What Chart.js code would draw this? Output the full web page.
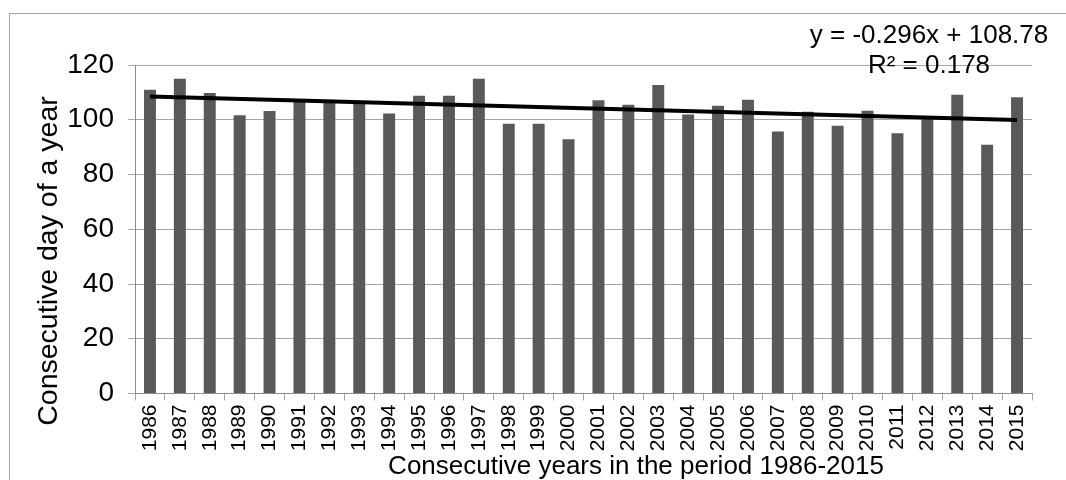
<!DOCTYPE html>
<html>
<head>
<meta charset="utf-8">
<script src="https://cdn.jsdelivr.net/npm/chart.js@4/dist/chart.umd.min.js"></script>
<style>
  html, body { margin: 0; padding: 0; background: #fff; }
  #wrap { position: relative; width: 1066px; height: 480px; overflow: hidden; }
  #frame { position: absolute; left: 9px; top: 13px; width: 1200px; height: 600px;
           border-left: 1px solid #a6a6a6; border-top: 1px solid #a6a6a6; }
  canvas { position: absolute; left: 0; top: 0; }
</style>
</head>
<body>
<div id="wrap">
  <div id="frame"></div>
  <canvas id="chart" width="1066" height="480"></canvas>
</div>
<script>
// years 1986-2015
const years = ['1986','1987','1988','1989','1990','1991','1992','1993','1994','1995',
               '1996','1997','1998','1999','2000','2001','2002','2003','2004','2005',
               '2006','2007','2008','2009','2010','2011','2012','2013','2014','2015'];

// day of year
const dayValues = [111.0, 115.0, 109.8, 101.6, 103.2, 107.2, 106.8, 106.3, 102.3, 108.8,
                   108.8, 115.0, 98.5, 98.5, 92.9, 107.1, 105.5, 112.7, 101.9, 105.1,
                   107.3, 95.7, 102.9, 97.8, 103.3, 95.1, 100.8, 109.1, 90.9, 108.2];

// linear trend end points (first and last year)
const trendYears = ['1986', '2015'];
const trendValues = [108.48, 99.90];

const yTicks = [0, 20, 40, 60, 80, 100, 120];

const equationLines = ['y = -0.296x + 108.78', 'R² = 0.178'];
const xTitle = 'Consecutive years in the period 1986-2015';
const yTitle = 'Consecutive day of a year';

const FONT = '"Liberation Sans", Arial, sans-serif';

// axis titles + trend equation drawn at fixed spots
const textPlugin = {
    id: 'texts',
    afterDraw(chart) {
        const ctx = chart.ctx;
        ctx.save();
        ctx.fillStyle = '#000';
        ctx.font = '26px ' + FONT;
        ctx.textAlign = 'center';
        ctx.textBaseline = 'alphabetic';
        ctx.fillText(equationLines[0], 929, 43);
        ctx.fillText(equationLines[1], 929, 73);
        ctx.fillText(xTitle, 636, 474);
        ctx.font = '28.5px ' + FONT;
        ctx.translate(57, 261);
        ctx.rotate(-Math.PI / 2);
        ctx.fillText(yTitle, 0, 0);
        ctx.restore();
    }
};

new Chart(document.getElementById('chart'), {
    type: 'bar',
    data: {
        labels: years,
        datasets: [
            {
                type: 'line',
                data: trendYears.map((y, i) => ({ x: y, y: trendValues[i] })),
                borderColor: '#000',
                borderWidth: 4,
                pointRadius: 0,
                tension: 0,
                order: 0
            },
            {
                data: dayValues,
                backgroundColor: '#595959',
                barPercentage: 1,
                categoryPercentage: 0.4,
                order: 1
            }
        ]
    },
    options: {
        responsive: false,
        animation: false,
        events: [],
        layout: { padding: { left: 0, top: 65, right: 34, bottom: 0 } },
        plugins: { legend: { display: false }, tooltip: { enabled: false } },
        scales: {
            x: {
                offset: true,
                grid: { offset: true, drawOnChartArea: false, drawTicks: true, tickLength: 7, color: '#a6a6a6' },
                border: { color: '#8c8c8c', width: 1 },
                ticks: {
                    autoSkip: false, minRotation: 90, maxRotation: 90,
                    color: '#000', padding: 4,
                    font: { family: FONT, size: 21 }
                },
                afterFit: s => { s.height = 86.5; }
            },
            y: {
                min: 0, max: 120,
                afterBuildTicks: s => { s.ticks = yTicks.map(v => ({ value: v })); },
                grid: { color: '#a6a6a6', tickLength: 7 },
                border: { color: '#8c8c8c', width: 1 },
                ticks: {
                    color: '#000', padding: 14,
                    font: { family: FONT, size: 28 }
                },
                afterFit: s => { s.width = 135; }
            }
        }
    },
    plugins: [textPlugin]
});
</script>
</body>
</html>
